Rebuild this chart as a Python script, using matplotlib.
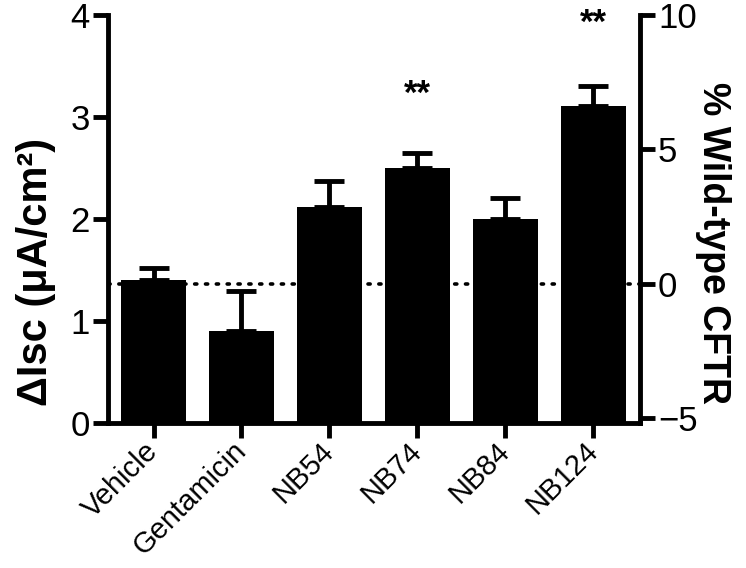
import matplotlib
matplotlib.use('Agg')
import matplotlib.pyplot as plt
import numpy as np

plt.rcParams['font.family'] = ['Liberation Sans', 'DejaVu Sans']

categories = ['Vehicle', 'Gentamicin', 'NB54', 'NB74', 'NB84', 'NB124']
isc_mean = [1.40, 0.90, 2.12, 2.50, 2.00, 3.11]
isc_sem = [0.12, 0.39, 0.25, 0.15, 0.21, 0.19]
significant = ['', '', '', '**', '', '**']
star_y = [0, 0, 0, 3.22, 0, 3.92]
vehicle_level = 1.363
left_ticks = [0, 1, 2, 3, 4]
right_ticks = [-5, 0, 5, 10]
pct_per_unit = 10 / (4 - vehicle_level)

fig = plt.figure(figsize=(7.46, 5.68), dpi=100)
ax = fig.add_axes([0.1448, 0.2553, 0.7131, 0.7183])

x = np.arange(len(categories))
ax.bar(x, isc_mean, width=0.74, color='black', linewidth=0, zorder=2)
ax.errorbar(x, isc_mean, yerr=[np.zeros(len(x)), isc_sem], fmt='none',
            ecolor='black', elinewidth=3.5, capsize=11, capthick=3.5, zorder=1)
ax.axhline(vehicle_level, color='black', linestyle=(0, (0.6, 2.4)),
           linewidth=2.6, dash_capstyle='round', zorder=0)

for xi, s, sy in zip(x, significant, star_y):
    if s:
        ax.text(xi, sy, s, ha='center', va='center', fontsize=25, fontweight='bold')

ax.set_xlim(-0.517, 5.53)
ax.set_ylim(0, 4)
ax.set_yticks(left_ticks)
ax.set_xticks(x)
ax.set_xticklabels(categories, rotation=45, ha='right', va='center',
                   rotation_mode='anchor')
ax.tick_params(axis='both', width=3.5, length=11)
ax.tick_params(axis='y', labelsize=25, pad=2)
ax.tick_params(axis='x', labelsize=21, pad=6)
ax.set_ylabel('\u0394Isc (\u03bcA/cm\u00b2)', fontsize=30, fontweight='bold',
              va='center', ha='center')
ax.yaxis.set_label_coords(-0.135, 0.37)

for sp in ['left', 'bottom']:
    ax.spines[sp].set_linewidth(3.5)
for sp in ['top', 'right']:
    ax.spines[sp].set_visible(False)

ax2 = ax.twinx()
ax2.set_ylim(-vehicle_level * pct_per_unit, 10)
ax2.set_yticks(right_ticks)
ax2.tick_params(axis='y', width=3.5, length=11, labelsize=25, pad=2)
ax2.set_ylabel('% Wild-type CFTR', fontsize=27, fontweight='bold',
               rotation=270, va='center', ha='center')
ax2.yaxis.set_label_coords(1.137, 0.44)
for sp in ['left', 'top', 'bottom']:
    ax2.spines[sp].set_visible(False)
ax2.spines['right'].set_linewidth(3.5)

fig.savefig('out.png', dpi=100)
